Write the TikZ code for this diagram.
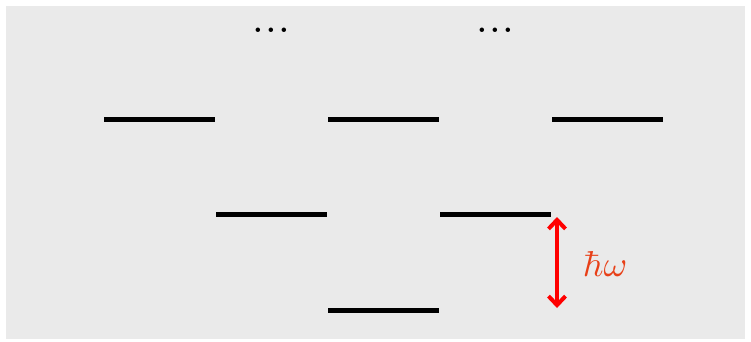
\documentclass[tikz,border=0pt]{standalone}
\usepackage{graphicx}
\usetikzlibrary{arrows.meta}
\definecolor{bggray}{RGB}{234,234,234}
\definecolor{labelred}{RGB}{232,64,24}
\tikzset{
  level/.style={fill=black, inner sep=0pt, minimum width=111pt, minimum height=5pt, draw=none},
  dotsnode/.style={inner sep=0pt},
  gaparrow/.style={red, line width=4pt, {Straight Barb[length=9pt,width=17pt]}-{Straight Barb[length=9pt,width=17pt]}},
}
\begin{document}
\begin{tikzpicture}[x=1pt,y=-1pt]
\useasboundingbox (0,0) rectangle (751,341);
\fill[white] (0,0) rectangle (751,341);
\fill[bggray] (6,6) rectangle (745,339);
% top row
\node[level] (t1) at (159.5,119) {};
\node[level] (t2) at (383.5,119) {};
\node[level] (t3) at (607.5,119) {};
% middle row
\node[level] (m1) at (271.5,214) {};
\node[level] (m2) at (495.5,214) {};
% bottom
\node[level] (b1) at (383.5,310) {};
% dots
\node[dotsnode, anchor=base] (d1) at (271,32) {\scalebox{4.2}{.\kern0.32pt.\kern0.32pt.}};
\node[dotsnode, anchor=base] (d2) at (495,32) {\scalebox{4.2}{.\kern0.32pt.\kern0.32pt.}};
% arrow
\coordinate (atop) at (557,217);
\coordinate (abot) at (557,308);
\draw[gaparrow] (atop) -- (abot);
\node[text=labelred, inner sep=0pt] (hw) at (605,264) {\scalebox{3.6}{$\hbar\omega$}};
\end{tikzpicture}
\end{document}
